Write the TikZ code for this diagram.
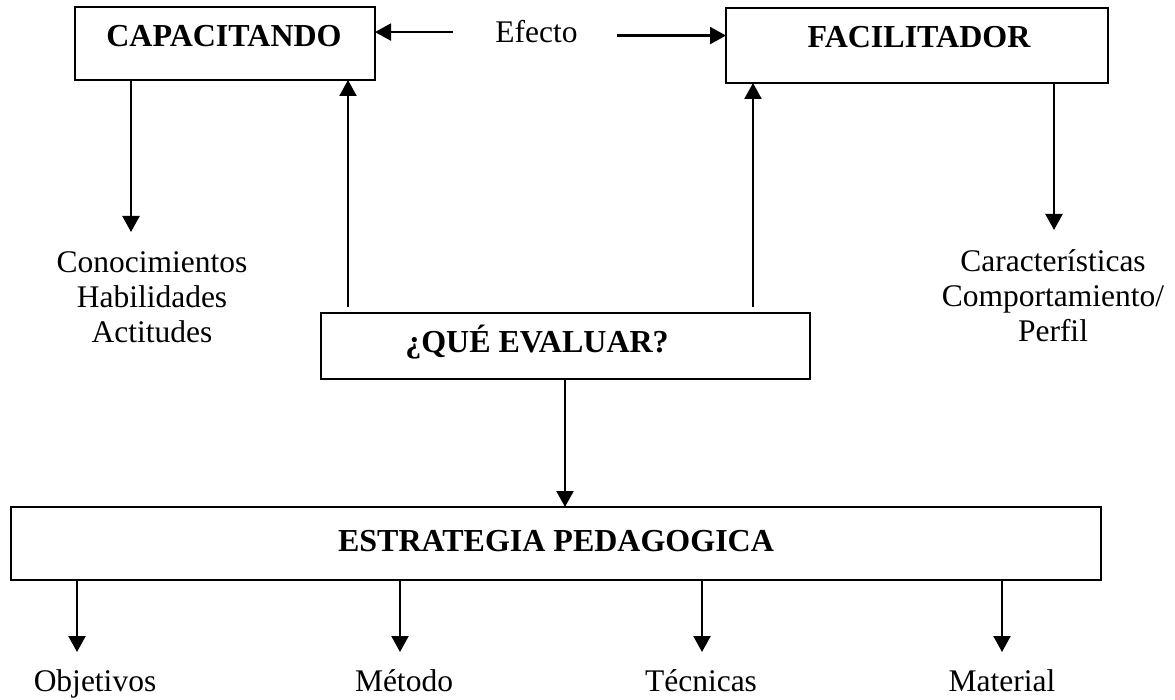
\documentclass[tikz,border=0pt]{standalone}
\usepackage{fontspec}
\setmainfont{Liberation Serif}
\usetikzlibrary{arrows.meta}
\begin{document}
\begin{tikzpicture}[x=1pt,y=-1pt,
  boxs/.style={draw, line width=2.5pt, inner sep=0pt, outer sep=0pt},
  title/.style={font=\bfseries\fontsize{32}{36}\selectfont, inner sep=0pt, anchor=base},
  lbl/.style={font=\fontsize{31.5}{35}\selectfont, inner sep=0pt, align=center},
  arr/.style={line width=2.2pt, -{Triangle[length=16pt,width=17pt]}}]
\useasboundingbox[fill=white] (0,0) rectangle (1175,700);

% boxes
\node[boxs, minimum width=300pt, minimum height=73pt] (cap) at (225,43.5) {};
\node[title] (capt) at (224,47) {CAPACITANDO};
\node[boxs, minimum width=382pt, minimum height=75pt] (fac) at (917,45.5) {};
\node[title] (fact) at (919,48) {FACILITADOR};
\node[boxs, minimum width=489pt, minimum height=66pt] (que) at (565.5,346) {};
\node[title] (quet) at (537,353) {¿QUÉ EVALUAR?};
\node[boxs, minimum width=1090pt, minimum height=73pt] (est) at (556,543.5) {};
\node[title] (estt) at (556,551) {ESTRATEGIA PEDAGOGICA};

% Efecto
\node[lbl, anchor=base] (efecto) at (536.5,43) {Efecto};
\draw[arr] ([xshift=-42pt]efecto.west) -- (cap.east |- efecto.west);
\node[inner sep=0pt] (efr) at ([xshift=39pt,yshift=-3.5pt]efecto.east) {};
\draw[arr] (efr.center) -- (fac.west |- efr.center);

% labels
\node[lbl, anchor=north] (conoc) at (152,251) {Conocimientos\\Habilidades\\Actitudes};
\node[lbl, anchor=north] (carac) at (1053,249) {Características\\Comportamiento/\\Perfil};
\node[lbl, anchor=base] (obj) at (95,691) {Objetivos};
\node[lbl, anchor=base] (met) at (404,691) {Método};
\node[lbl, anchor=base] (tec) at (701,691) {Técnicas};
\node[lbl, anchor=base] (mat) at (1002,691) {Material};

% arrow end coordinates
\coordinate (k1) at (131,232);
\coordinate (k2) at (1054,230);
\coordinate (xa) at (348,0);
\coordinate (xb) at (753,0);
\coordinate (xc) at (565,0);
\coordinate (b1) at (77,652);
\coordinate (b2) at (400,652);
\coordinate (b3) at (702,652);
\coordinate (b4) at (1002,652);

% connectors
\draw[arr] (cap.south -| k1) -- (k1);
\draw[arr] (fac.south -| k2) -- (k2);
\draw[arr, shorten <=6pt] (que.north -| xa) -- (cap.south -| xa);
\draw[arr, shorten <=6pt] (que.north -| xb) -- (fac.south -| xb);
\draw[arr] (que.south -| xc) -- (est.north -| xc);
\draw[arr] (est.south -| b1) -- (b1);
\draw[arr] (est.south -| b2) -- (b2);
\draw[arr] (est.south -| b3) -- (b3);
\draw[arr] (est.south -| b4) -- (b4);
\end{tikzpicture}
\end{document}
